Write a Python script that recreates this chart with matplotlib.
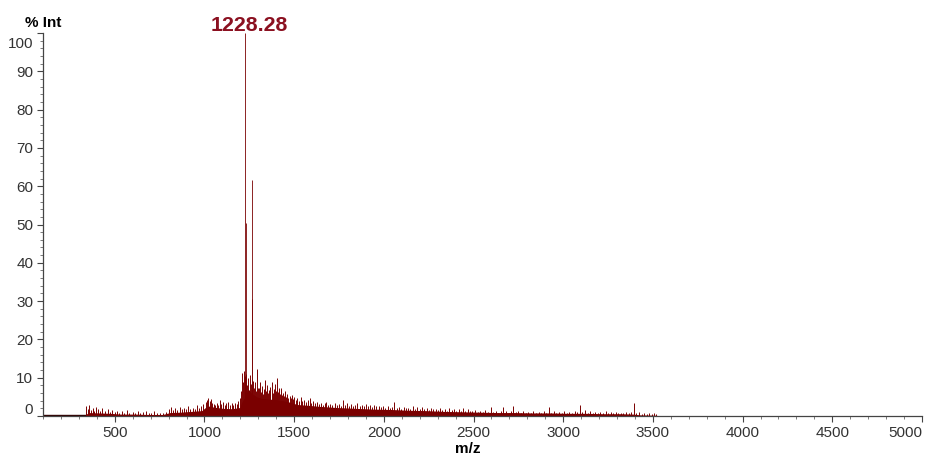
import matplotlib
matplotlib.use("Agg")
import matplotlib.pyplot as plt
from matplotlib.ticker import MultipleLocator
import matplotlib.transforms as mtransforms

# spectrum colour and label text
trace_color = '#7a0000'
label_color = '#8b1020'
base_peak_label = '1228.28'

# strongest peaks (m/z, % intensity)
peak_mz = [1228.28, 1229.28, 1262.30, 1263.30]
peak_int = [100.0, 50.4, 61.5, 30.5]

# smaller peaks across the spectrum
spike_mz = [
    337, 349, 356, 367, 378, 385, 396, 409, 418, 431, 444, 460, 472, 485, 499, 510,
    524, 539, 553, 567, 582, 600, 614, 628, 643, 659, 675, 689, 704, 721, 737, 754, 771, 787,
    804, 816, 825, 836, 849, 862, 873, 884, 897, 909, 921, 934, 946, 958, 970, 982, 994,
    1009, 1016, 1022, 1029, 1036, 1044, 1052, 1061, 1069, 1078, 1087, 1094, 1103, 1112,
    1121, 1133, 1142, 1151, 1160, 1170, 1179, 1188, 1197,
    1205, 1210, 1215, 1219, 1224, 1226, 1234, 1239, 1243, 1247, 1252, 1258, 1266, 1271,
    1276, 1281, 1285, 1291, 1296,
    1304, 1309, 1314, 1320, 1326, 1332, 1337, 1343, 1349, 1355, 1361, 1368, 1374, 1380,
    1386, 1392, 1398, 1403, 1409, 1415, 1421, 1426, 1432, 1438, 1444, 1449, 1455, 1462,
    1468, 1475, 1481, 1486, 1493,
    1500, 1509, 1518, 1527, 1537, 1546, 1556, 1566, 1576, 1587, 1596, 1607, 1618, 1628,
    1639, 1650, 1661, 1672, 1680, 1691, 1702, 1713, 1725, 1739, 1750, 1761, 1772, 1783,
    1795, 1807, 1818, 1830, 1842, 1853, 1865, 1877, 1888, 1900, 1912, 1923, 1935, 1947,
    1959, 1971, 1984,
    1996, 2009, 2021, 2033, 2046, 2059, 2071, 2084, 2097, 2110, 2122, 2135, 2148, 2161,
    2174, 2187, 2200, 2212, 2225, 2238, 2251, 2264, 2276, 2289, 2302, 2315, 2327, 2340,
    2353, 2366, 2379, 2391, 2404, 2417, 2430, 2443, 2455, 2468, 2481,
    2494, 2509, 2523, 2538, 2551, 2566, 2581, 2595, 2610, 2623, 2638, 2652, 2667, 2680,
    2695, 2709, 2720, 2734, 2748, 2762, 2777, 2791, 2806, 2819, 2834, 2848, 2863, 2876,
    2891, 2905, 2920, 2934, 2948, 2962, 2977, 2991, 3006, 3019, 3034, 3048, 3063, 3077,
    3093, 3107, 3122, 3136, 3150, 3164, 3179, 3193, 3207, 3221, 3236, 3250, 3265, 3278,
    3293, 3307, 3322, 3335, 3350, 3364, 3379, 3395, 3408, 3423, 3438, 3452, 3466, 3480,
    3494, 3507, 3519,
]
spike_int = [
    2.6, 1.8, 2.9, 1.5, 2.2, 1.4, 2.4, 1.7, 1.2, 2.0, 1.3, 1.9, 1.1, 1.6, 1.0, 1.4,
    0.9, 1.3, 0.8, 1.5, 0.9, 1.1, 0.8, 1.3, 0.7, 1.0, 1.4, 0.8, 0.9, 1.2, 0.7, 0.9, 0.8, 1.0,
    1.8, 2.3, 1.5, 2.0, 1.6, 2.4, 1.7, 2.1, 1.8, 2.6, 1.9, 2.2, 1.7, 2.8, 2.0, 2.5, 3.1,
    3.6, 4.2, 4.7, 3.9, 4.4, 3.5, 3.2, 2.9, 3.4, 3.0, 4.2, 3.1, 3.6, 2.9,
    3.3, 3.7, 3.0, 3.4, 2.8, 3.4, 3.1, 3.8, 4.6,
    6.5, 11.2, 8.9, 11.8, 9.6, 10.4, 11.0, 8.2, 9.8, 6.9, 10.7, 8.4, 7.7, 9.1,
    7.2, 8.8, 6.6, 12.4, 7.3,
    7.4, 9.0, 6.2, 7.9, 5.8, 7.1, 9.3, 6.4, 8.1, 5.9, 6.8, 7.6, 8.9, 6.1,
    7.0, 8.4, 6.6, 9.9, 6.3, 7.2, 5.8, 7.3, 5.6, 6.1, 5.2, 6.4, 5.0, 5.7,
    4.8, 5.3, 4.6, 5.5, 4.4,
    4.9, 4.1, 4.6, 3.8, 5.0, 3.9, 4.3, 3.6, 4.1, 4.7, 3.5, 3.9, 3.3, 3.7,
    3.1, 3.5, 3.0, 3.3, 3.6, 2.9, 3.2, 2.8, 3.4, 2.9, 3.1, 2.7, 4.2, 3.0,
    3.3, 2.7, 3.1, 2.6, 3.0, 3.5, 2.7, 2.9, 2.5, 3.2, 2.6, 2.8, 2.4, 2.9,
    2.5, 2.7, 2.3,
    2.6, 2.2, 2.5, 2.0, 2.4, 3.7, 2.1, 2.3, 1.9, 2.4, 2.0, 2.2, 1.8, 2.6,
    1.9, 2.4, 1.7, 2.3, 1.8, 2.0, 1.6, 2.2, 1.7, 1.9, 1.5, 2.1, 1.6, 1.8,
    1.4, 2.0, 1.5, 1.7, 1.4, 1.9, 1.4, 2.0, 1.3, 1.8, 1.4,
    1.2, 1.6, 1.1, 1.4, 1.0, 1.5, 1.1, 2.4, 1.0, 1.3, 0.9, 1.4, 2.4, 1.2,
    0.9, 1.3, 2.6, 1.0, 1.2, 0.9, 1.3, 0.9, 1.1, 0.8, 1.4, 0.9, 1.1, 0.8,
    1.2, 0.9, 2.3, 0.8, 1.3, 0.9, 1.1, 0.8, 1.2, 0.9, 1.0, 0.8, 1.4, 1.0,
    2.9, 1.1, 1.6, 0.9, 1.3, 0.8, 1.1, 0.7, 1.0, 0.8, 1.2, 0.7, 1.0, 0.7,
    1.1, 0.7, 0.9, 0.7, 1.0, 0.8, 1.1, 3.4, 0.8, 1.0, 0.6, 0.9, 0.6, 0.8,
    0.6, 0.7, 0.5,
]

# dense unresolved background under the peaks
floor_mz = [334, 355, 414, 473, 532, 611, 690, 768, 808, 867, 926, 985, 1005, 1025,
            1054, 1104, 1153, 1197, 1207, 1226, 1241, 1261, 1291, 1320, 1359, 1398,
            1438, 1477, 1517, 1576, 1645, 1744, 1842, 1941, 2039, 2137, 2236, 2334,
            2433, 2532, 2630, 2729, 2827, 2926, 3024, 3123, 3221, 3320, 3389, 3428, 3521]
floor_int = [0.3, 0.9, 0.8, 0.7, 0.5, 0.5, 0.4, 0.4, 0.9, 1.0, 1.2, 1.4, 2.2, 2.6,
             2.3, 2.0, 1.9, 2.2, 3.5, 5.0, 7.0, 6.0, 5.0, 4.6, 4.4, 4.3,
             4.0, 3.6, 3.0, 2.8, 2.5, 2.2, 2.0, 1.8, 1.7, 1.5, 1.4, 1.2,
             1.1, 1.0, 0.9, 0.9, 0.8, 0.8, 0.7, 0.7, 0.6, 0.6, 0.5, 0.3, 0.2]

x_ticks = [500, 1000, 1500, 2000, 2500, 3000, 3500, 4000, 4500, 5000]
y_ticks = [0, 10, 20, 30, 40, 50, 60, 70, 80, 90, 100]

plt.rcParams['font.family'] = ['Liberation Sans', 'DejaVu Sans']

fig = plt.figure(figsize=(9.27, 4.59), dpi=100)
ax = fig.add_axes([43 / 927, 1 - 416 / 459, 879 / 927, 383 / 459])

# background, small peaks, then the big ones on top
ax.plot([100, floor_mz[0]], [0.15, 0.15], color='#300000', linewidth=1.0)
ax.fill_between(floor_mz, 0, floor_int, color=trace_color, linewidth=0)
ax.vlines(spike_mz, 0, spike_int, color=trace_color, linewidth=0.7)
ax.vlines(peak_mz, 0, peak_int, color=trace_color, linewidth=0.6)

ax.annotate(base_peak_label, xy=(peak_mz[0], 100), xytext=(3, -1.5),
            textcoords='offset points', ha='center', va='bottom',
            fontsize=15.4, fontweight='bold', color=label_color,
            annotation_clip=False)

ax.set_xlim(100, 5000)
ax.set_ylim(0, 100)
ax.set_xticks(x_ticks)
ax.set_yticks(y_ticks)
ax.xaxis.set_minor_locator(MultipleLocator(100))
ax.yaxis.set_minor_locator(MultipleLocator(2))

for side in ['top', 'right']:
    ax.spines[side].set_visible(False)
for side in ['left', 'bottom']:
    ax.spines[side].set_color('#444444')
    ax.spines[side].set_linewidth(0.9)

ax.tick_params(which='major', length=4, width=0.8, color='#444444',
               labelsize=11, labelcolor='#333333', pad=3)
ax.tick_params(which='minor', length=2, width=0.6, color='#666666')

# end labels sit inside the axis range
dpi_tr = fig.dpi_scale_trans
ylabels = ax.get_yticklabels()
ylabels[0].set_transform(ylabels[0].get_transform() +
                         mtransforms.ScaledTranslation(0, 8 / 100, dpi_tr))
ylabels[-1].set_transform(ylabels[-1].get_transform() +
                          mtransforms.ScaledTranslation(0, -9.5 / 100, dpi_tr))
xlabels = ax.get_xticklabels()
xlabels[-1].set_transform(xlabels[-1].get_transform() +
                          mtransforms.ScaledTranslation(-17 / 100, 0, dpi_tr))

ax.annotate('% Int', xy=(0, 1), xycoords='axes fraction', xytext=(0, 2),
            textcoords='offset points', ha='center', va='bottom',
            fontsize=11, fontweight='bold')
ax.set_xlabel('m/z', fontsize=11, fontweight='bold')
ax.xaxis.set_label_coords(0.4835, -0.068)

fig.savefig('out.png', dpi=100)
